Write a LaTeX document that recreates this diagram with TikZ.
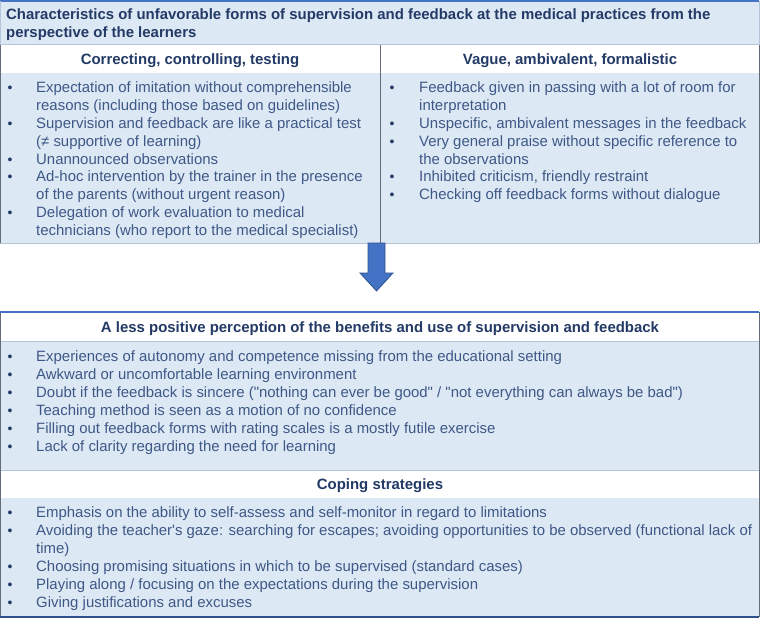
\documentclass[tikz,border=0pt]{standalone}
\usepackage{fontspec}
\setmainfont{Liberation Sans}[Ligatures=TeXOff]
\definecolor{paleblue}{RGB}{221,232,245}
\definecolor{bodyc}{RGB}{62,88,134}
\definecolor{headc}{RGB}{35,58,102}
\definecolor{rulec}{RGB}{100,108,120}
\definecolor{lightrule}{RGB}{180,196,218}
\definecolor{topblue}{RGB}{68,114,196}
\definecolor{arrowfill}{RGB}{68,114,196}
\definecolor{arrowline}{RGB}{47,82,143}
\tikzset{
  txt/.style={font=\fontsize{15}{18}\selectfont, text=bodyc, inner sep=0pt, anchor=base west},
  bul/.style={font=\fontsize{14}{16}\selectfont, text=headc, inner sep=0pt, anchor=base},
  hd/.style={font=\fontsize{15}{18}\selectfont\bfseries, text=headc, inner sep=0pt, anchor=base},
  ttl/.style={font=\fontsize{15}{18}\selectfont\bfseries, text=headc, inner sep=0pt, anchor=base west},
  frameline/.style={draw=rulec, line width=1bp},
  softline/.style={draw=lightrule, line width=1bp},
  blueline/.style={draw=topblue, line width=1.5bp},
}
\begin{document}
\begin{tikzpicture}[x=1bp,y=-1bp]
\useasboundingbox (0,0) rectangle (760,618);
% ---------- top box ----------
\fill[paleblue] (0,1) rectangle (759,45);
\fill[white] (0,45) rectangle (759,73);
\fill[paleblue] (0,73) rectangle (759,243);
\draw[blueline] (0,1) -- (759,1);
\draw[softline] (0,45) -- (759,45);
\draw[softline] (0,243) -- (759,243);
\draw[softline] (0.5,1) -- (0.5,45);
\draw[softline] (759,1) -- (759,45);
\draw[frameline] (0.5,45) -- (0.5,243);
\draw[frameline] (759,45) -- (759,243);
\draw[frameline] (380,45) -- (380,243);

\node[ttl] (t1) at (6,20) {Characteristics of unfavorable forms of supervision and feedback at the medical practices from the};
\node[ttl] (t2) at (6,38) {perspective of the learners};

\node[hd] (hl) at (190,65) {Correcting, controlling, testing};
\node[hd] (hr) at (570,65) {Vague, ambivalent, formalistic};

% left column
\foreach \k/\yy in {a/93,b/128.6,c/164.2,d/182,e/217.6}
  \node[bul] (lb\k) at (10,\yy) {\textbullet};
\node[txt] (l1) at (36,93) {Expectation of imitation without comprehensible};
\node[txt] (l2) at (36,110.8) {reasons (including those based on guidelines)};
\node[txt] (l3) at (36,128.6) {Supervision and feedback are like a practical test};
\node[txt] (l4) at (36,146.4) {(≠ supportive of learning)};
\node[txt] (l5) at (36,164.2) {Unannounced observations};
\node[txt] (l6) at (36,182) {Ad-hoc intervention by the trainer in the presence};
\node[txt] (l7) at (36,199.8) {of the parents (without urgent reason)};
\node[txt] (l8) at (36,217.6) {Delegation of work evaluation to medical};
\node[txt] (l9) at (36,235.4) {technicians (who report to the medical specialist)};

% right column
\foreach \k/\yy in {a/93,b/128.6,c/146.4,d/182,e/199.8}
  \node[bul] (rb\k) at (392,\yy) {\textbullet};
\node[txt] (r1) at (419,93) {Feedback given in passing with a lot of room for};
\node[txt] (r2) at (419,110.8) {interpretation};
\node[txt] (r3) at (419,128.6) {Unspecific, ambivalent messages in the feedback};
\node[txt] (r4) at (419,146.4) {Very general praise without specific reference to};
\node[txt] (r5) at (419,164.2) {the observations};
\node[txt] (r6) at (419,182) {Inhibited criticism, friendly restraint};
\node[txt] (r7) at (419,199.8) {Checking off feedback forms without dialogue};

% ---------- arrow ----------
\filldraw[fill=arrowfill, draw=arrowline, line width=0.8bp]
  (368,243) -- (385,243) -- (385,273) -- (393,273) -- (376.5,291)
  -- (360,273) -- (368,273) -- cycle;

% ---------- bottom box ----------
\fill[white] (0,312) rectangle (759,341);
\fill[paleblue] (0,341) rectangle (759,470);
\fill[white] (0,470) rectangle (759,498);
\fill[paleblue] (0,498) rectangle (759,617);
\draw[softline] (0,341) -- (759,341);
\draw[softline] (0,470) -- (759,470);
\draw[frameline] (0.5,312) -- (0.5,617);
\draw[frameline] (759,312) -- (759,617);
\draw[blueline] (0,312) -- (759,312);
\draw[blueline, draw=arrowline] (0,617) -- (759,617);

\node[hd] (h3) at (380,332) {A less positive perception of the benefits and use of supervision and feedback};
\foreach \k/\yy in {a/361.5,b/379.5,c/397.5,d/415.5,e/433.5,f/451.5}
  \node[bul] (pb\k) at (10,\yy) {\textbullet};
\node[txt] (p1) at (36,361.5) {Experiences of autonomy and competence missing from the educational setting};
\node[txt] (p2) at (36,379.5) {Awkward or uncomfortable learning environment};
\node[txt] (p3) at (36,397.5) {Doubt if the feedback is sincere ("nothing can ever be good" / "not everything can always be bad")};
\node[txt] (p4) at (36,415.5) {Teaching method is seen as a motion of no confidence};
\node[txt] (p5) at (36,433.5) {Filling out feedback forms with rating scales is a mostly futile exercise};
\node[txt] (p6) at (36,451.5) {Lack of clarity regarding the need for learning};

\node[hd] (h4) at (380,489) {Coping strategies};
\foreach \k/\yy in {a/517.5,b/535.5,c/571.5,d/589.5,e/607.5}
  \node[bul] (cb\k) at (10,\yy) {\textbullet};
\node[txt] (c1) at (36,517.5) {Emphasis on the ability to self-assess and self-monitor in regard to limitations};
\node[txt] (c2) at (36,535.5) {Avoiding the teacher's gaze: searching for escapes; avoiding opportunities to be observed (functional lack of};
\node[txt] (c3) at (36,553.5) {time)};
\node[txt] (c4) at (36,571.5) {Choosing promising situations in which to be supervised (standard cases)};
\node[txt] (c5) at (36,589.5) {Playing along / focusing on the expectations during the supervision};
\node[txt] (c6) at (36,607.5) {Giving justifications and excuses};
\end{tikzpicture}
\end{document}
